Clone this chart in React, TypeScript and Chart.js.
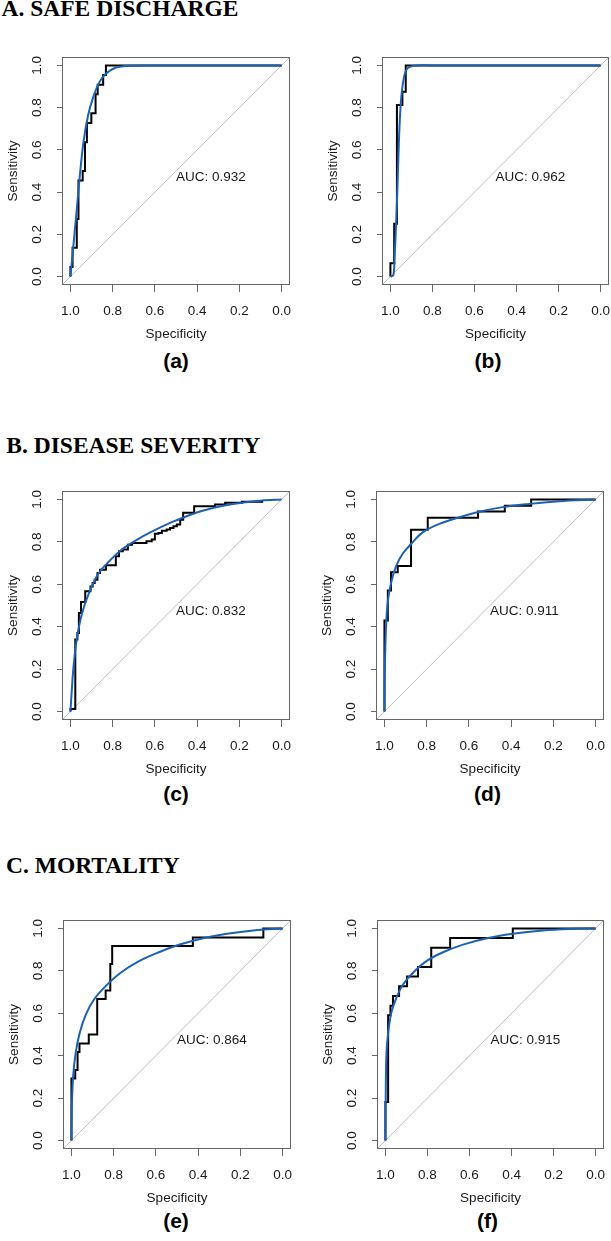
import React, { useEffect, useRef } from 'react';
import { Chart, registerables } from 'chart.js';

Chart.register(...registerables);

// ---------- data ----------
const tickValues = [0, 0.2, 0.4, 0.6, 0.8, 1.0];
const axisMin = -0.04;
const axisMax = 1.04;

const sectionTitles = ['A. SAFE DISCHARGE', 'B. DISEASE SEVERITY', 'C. MORTALITY'];
const panelLabels = ['(a)', '(b)', '(c)', '(d)', '(e)', '(f)'];
const aucLabels = ['0.932', '0.962', '0.832', '0.911', '0.864', '0.915'];

// empirical ROC staircases: (specificity, sensitivity) at the top of each riser
const aStepSpec = [1.0, 1.0, 0.99, 0.97, 0.962, 0.942, 0.931, 0.922, 0.901, 0.881, 0.871, 0.845, 0.832, 0.0];
const aStepSens = [0.0, 0.045, 0.136, 0.273, 0.455, 0.5, 0.636, 0.727, 0.773, 0.864, 0.909, 0.955, 1.0, 1.0];
const aSmoothSpec = [1.0, 0.985, 0.969, 0.953, 0.937, 0.916, 0.894, 0.866, 0.834, 0.787, 0.723, 0.644, 0.5, 0.0];
const aSmoothSens = [0.0, 0.157, 0.33, 0.504, 0.646, 0.765, 0.844, 0.915, 0.959, 0.989, 0.998, 1.0, 1.0, 1.0];

const bStepSpec = [1.0, 1.0, 0.982, 0.969, 0.943, 0.927, 0.0];
const bStepSens = [0.0, 0.0625, 0.25, 0.8125, 0.875, 1.0, 1.0];
const bSmoothSpec = [1.0, 0.986, 0.98, 0.973, 0.967, 0.962, 0.956, 0.948, 0.935, 0.919, 0.888, 0.808, 0.5, 0.0];
const bSmoothSens = [0.0, 0.006, 0.093, 0.251, 0.409, 0.567, 0.725, 0.852, 0.946, 0.986, 0.999, 1.0, 1.0, 1.0];

const cStepSpec = [1.0, 1.0, 0.977, 0.967, 0.96, 0.95, 0.93, 0.905, 0.895, 0.885, 0.872, 0.86, 0.832, 0.785, 0.77, 0.752, 0.728, 0.708, 0.64, 0.615, 0.6, 0.583, 0.567, 0.544, 0.528, 0.512, 0.496, 0.48, 0.466, 0.414, 0.315, 0.267, 0.188, 0.087];
const cStepSens = [0.0, 0.012, 0.34, 0.37, 0.465, 0.517, 0.567, 0.59, 0.606, 0.622, 0.653, 0.669, 0.69, 0.732, 0.756, 0.764, 0.787, 0.795, 0.803, 0.811, 0.838, 0.842, 0.853, 0.858, 0.866, 0.874, 0.882, 0.905, 0.937, 0.968, 0.976, 0.984, 0.989, 0.989];
const cSmoothSpec = [1.0, 0.994, 0.986, 0.97, 0.946, 0.912, 0.868, 0.82, 0.757, 0.694, 0.615, 0.52, 0.457, 0.378, 0.283, 0.188, 0.093, 0.0];
const cSmoothSens = [0.0, 0.094, 0.205, 0.34, 0.46, 0.56, 0.65, 0.705, 0.764, 0.805, 0.848, 0.893, 0.918, 0.946, 0.969, 0.985, 0.995, 1.0];

const dStepSpec = [1.0, 1.0, 0.984, 0.969, 0.937, 0.874, 0.795, 0.557, 0.43, 0.305, 0.0];
const dStepSens = [0.0, 0.429, 0.571, 0.657, 0.686, 0.857, 0.914, 0.943, 0.971, 1.0, 1.0];
const dSmoothSpec = [1.0, 0.999, 0.997, 0.992, 0.984, 0.968, 0.945, 0.913, 0.874, 0.819, 0.74, 0.645, 0.551, 0.44, 0.314, 0.172, 0.0];
const dSmoothSens = [0.0, 0.12, 0.252, 0.41, 0.52, 0.61, 0.685, 0.745, 0.79, 0.845, 0.885, 0.916, 0.942, 0.964, 0.979, 0.992, 1.0];

const eStepSpec = [1.0, 1.0, 0.982, 0.971, 0.962, 0.918, 0.878, 0.838, 0.816, 0.807, 0.425, 0.091, 0.0];
const eStepSens = [0.0, 0.292, 0.333, 0.417, 0.458, 0.5, 0.667, 0.708, 0.833, 0.917, 0.958, 1.0, 1.0];
const eSmoothSpec = [1.0, 0.998, 0.992, 0.98, 0.961, 0.932, 0.893, 0.838, 0.767, 0.68, 0.586, 0.491, 0.381, 0.255, 0.129, 0.0];
const eSmoothSens = [0.0, 0.161, 0.302, 0.413, 0.507, 0.594, 0.665, 0.728, 0.791, 0.846, 0.888, 0.923, 0.953, 0.976, 0.992, 1.0];

const fStepSpec = [1.0, 1.0, 0.987, 0.976, 0.964, 0.935, 0.897, 0.845, 0.782, 0.692, 0.394, 0.0];
const fStepSens = [0.0, 0.182, 0.591, 0.636, 0.682, 0.727, 0.773, 0.818, 0.909, 0.955, 1.0, 1.0];
const fSmoothSpec = [1.0, 0.999, 0.998, 0.995, 0.987, 0.972, 0.948, 0.916, 0.869, 0.805, 0.726, 0.631, 0.521, 0.394, 0.252, 0.125, 0.0];
const fSmoothSens = [0.0, 0.12, 0.255, 0.413, 0.507, 0.602, 0.673, 0.736, 0.791, 0.846, 0.888, 0.924, 0.953, 0.975, 0.991, 0.998, 1.0];

// ---------- styles / layout ----------
const SANS = "'Liberation Sans', Arial, Helvetica, sans-serif";
const SERIF = "'Liberation Serif', 'Times New Roman', serif";
const FONT_SIZE = 13.5;
const TEXT_COLOR = '#1a1a1a';
const AXIS_COLOR = '#666666';
const STEP_COLOR = '#000000';
const SMOOTH_COLOR = '#1c61b6';
const DIAG_COLOR = '#bebebe';
const Y_AXIS_W = 57;
const X_AXIS_H = 57;
const PAD_TOP = 25;
const AUC_POS = 0.5;

type PanelGeom = { boxL: number; boxT: number; boxW: number; boxH: number; padR: number; capX: number; capBase: number };

const panels: PanelGeom[] = [
  { boxL: 62, boxT: 57, boxW: 228, boxH: 228, padR: 3, capX: 176, capBase: 367.5 },
  { boxL: 382, boxT: 57, boxW: 227, boxH: 228, padR: 2, capX: 488, capBase: 367.5 },
  { boxL: 62, boxT: 491, boxW: 228, boxH: 229, padR: 3, capX: 176, capBase: 800.5 },
  { boxL: 376, boxT: 491, boxW: 228, boxH: 229, padR: 3, capX: 487.5, capBase: 800.5 },
  { boxL: 63, boxT: 920, boxW: 228, boxH: 229, padR: 3, capX: 176, capBase: 1228 },
  { boxL: 377, boxT: 920, boxW: 227, boxH: 229, padR: 3, capX: 487.5, capBase: 1228 },
];

const series = [
  [aStepSpec, aStepSens, aSmoothSpec, aSmoothSens],
  [bStepSpec, bStepSens, bSmoothSpec, bSmoothSens],
  [cStepSpec, cStepSens, cSmoothSpec, cSmoothSens],
  [dStepSpec, dStepSens, dSmoothSpec, dSmoothSens],
  [eStepSpec, eStepSens, eSmoothSpec, eSmoothSens],
  [fStepSpec, fStepSens, fSmoothSpec, fSmoothSens],
];

const headers = [
  { text: sectionTitles[0], left: 1.5, base: 17 },
  { text: sectionTitles[1], left: 6.3, base: 453.5 },
  { text: sectionTitles[2], left: 6, base: 874 },
];

const toPoints = (xs: number[], ys: number[]) => xs.map((x, i) => ({ x, y: ys[i] }));

function RocPanel({ idx }: { idx: number }) {
  const ref = useRef<HTMLCanvasElement | null>(null);
  const g = panels[idx];
  const W = Y_AXIS_W + g.boxW + g.padR;
  const H = PAD_TOP + g.boxH + X_AXIS_H;
  const left = g.boxL - Y_AXIS_W;
  const top = g.boxT - PAD_TOP;

  useEffect(() => {
    const [stepSpec, stepSens, smoothSpec, smoothSens] = series[idx];
    const font = { family: SANS, size: FONT_SIZE };
    const boxPlugin = {
      id: 'rocBox' + idx,
      afterDatasetsDraw(chart: any) {
        const { ctx, scales } = chart;
        ctx.save();
        ctx.font = `${FONT_SIZE}px ${SANS}`;
        ctx.fillStyle = TEXT_COLOR;
        ctx.textAlign = 'left';
        ctx.textBaseline = 'alphabetic';
        ctx.fillText(
          'AUC: ' + aucLabels[idx],
          scales.x.getPixelForValue(AUC_POS),
          scales.y.getPixelForValue(AUC_POS) + FONT_SIZE * 0.716
        );
        ctx.restore();
      },
      afterDraw(chart: any) {
        const { ctx, chartArea } = chart;
        ctx.save();
        ctx.strokeStyle = AXIS_COLOR;
        ctx.lineWidth = 1;
        ctx.strokeRect(
          chartArea.left + 0.5,
          chartArea.top + 0.5,
          chartArea.right - chartArea.left - 1,
          chartArea.bottom - chartArea.top - 1
        );
        ctx.restore();
      },
    };

    const chart = new Chart(ref.current as HTMLCanvasElement, {
      type: 'line',
      data: {
        datasets: [
          {
            data: toPoints(smoothSpec, smoothSens),
            borderColor: SMOOTH_COLOR,
            borderWidth: 2,
            tension: 0.35,
            pointRadius: 0,
            fill: false,
          },
          {
            data: toPoints(stepSpec, stepSens),
            borderColor: STEP_COLOR,
            borderWidth: 2,
            stepped: 'before',
            pointRadius: 0,
            fill: false,
            borderJoinStyle: 'miter',
          },
          {
            data: [
              { x: axisMax, y: 1 - axisMax },
              { x: axisMin, y: 1 - axisMin },
            ],
            borderColor: DIAG_COLOR,
            borderWidth: 1,
            pointRadius: 0,
            fill: false,
          },
        ] as any,
      },
      options: {
        responsive: false,
        maintainAspectRatio: false,
        animation: false,
        devicePixelRatio: 1,
        events: [],
        layout: { padding: { top: PAD_TOP, right: g.padR, left: 0, bottom: 0 } },
        plugins: { legend: { display: false }, tooltip: { enabled: false } },
        scales: {
          x: {
            type: 'linear',
            reverse: true,
            min: axisMin,
            max: axisMax,
            afterBuildTicks: (s: any) => {
              s.ticks = tickValues.map((v) => ({ value: v }));
            },
            afterFit: (s: any) => {
              s.height = X_AXIS_H;
            },
            grid: { drawOnChartArea: false, drawTicks: true, tickLength: 7, color: AXIS_COLOR, lineWidth: 1 },
            border: { display: false },
            ticks: {
              padding: 11,
              font,
              color: TEXT_COLOR,
              minRotation: 0,
              maxRotation: 0,
              autoSkip: false,
              callback: (v: any) => Number(v).toFixed(1),
            },
            title: { display: true, text: 'Specificity', font, color: TEXT_COLOR, padding: 0 },
          },
          y: {
            type: 'linear',
            min: axisMin,
            max: axisMax,
            afterBuildTicks: (s: any) => {
              s.ticks = tickValues.map((v) => ({ value: v }));
            },
            afterFit: (s: any) => {
              s.width = Y_AXIS_W;
            },
            grid: { drawOnChartArea: false, drawTicks: true, tickLength: 5, color: AXIS_COLOR, lineWidth: 1 },
            border: { display: false },
            ticks: {
              padding: 10,
              font,
              color: TEXT_COLOR,
              minRotation: 90,
              maxRotation: 90,
              crossAlign: 'center',
              autoSkip: false,
              callback: (v: any) => Number(v).toFixed(1),
            },
            title: { display: true, text: 'Sensitivity', font, color: TEXT_COLOR, padding: 0 },
          },
        },
      } as any,
      plugins: [boxPlugin],
    });
    return () => chart.destroy();
  }, [idx]);

  return (
    <canvas
      ref={ref}
      width={W}
      height={H}
      style={{ position: 'absolute', left, top, width: W, height: H }}
    />
  );
}

export default function App() {
  return (
    <div
      style={{
        position: 'absolute',
        left: 0,
        top: 0,
        width: 611,
        height: 1241,
        overflow: 'hidden',
        background: '#ffffff',
      }}
    >
      {headers.map((h) => (
        <div
          key={h.text}
          style={{
            position: 'absolute',
            left: h.left,
            top: h.base - 23.5 * 0.8373,
            fontFamily: SERIF,
            fontWeight: 'bold',
            fontSize: 23.5,
            lineHeight: '23.5px',
            whiteSpace: 'nowrap',
            color: '#000',
          }}
        >
          {h.text}
        </div>
      ))}
      {panels.map((p, i) => (
        <RocPanel key={i} idx={i} />
      ))}
      {panels.map((p, i) => (
        <div
          key={'cap' + i}
          style={{
            position: 'absolute',
            left: p.capX - 50,
            width: 100,
            top: p.capBase - 21 * 0.8465,
            textAlign: 'center',
            fontFamily: SANS,
            fontWeight: 'bold',
            fontSize: 21,
            lineHeight: '21px',
            color: '#000',
          }}
        >
          {panelLabels[i]}
        </div>
      ))}
    </div>
  );
}
